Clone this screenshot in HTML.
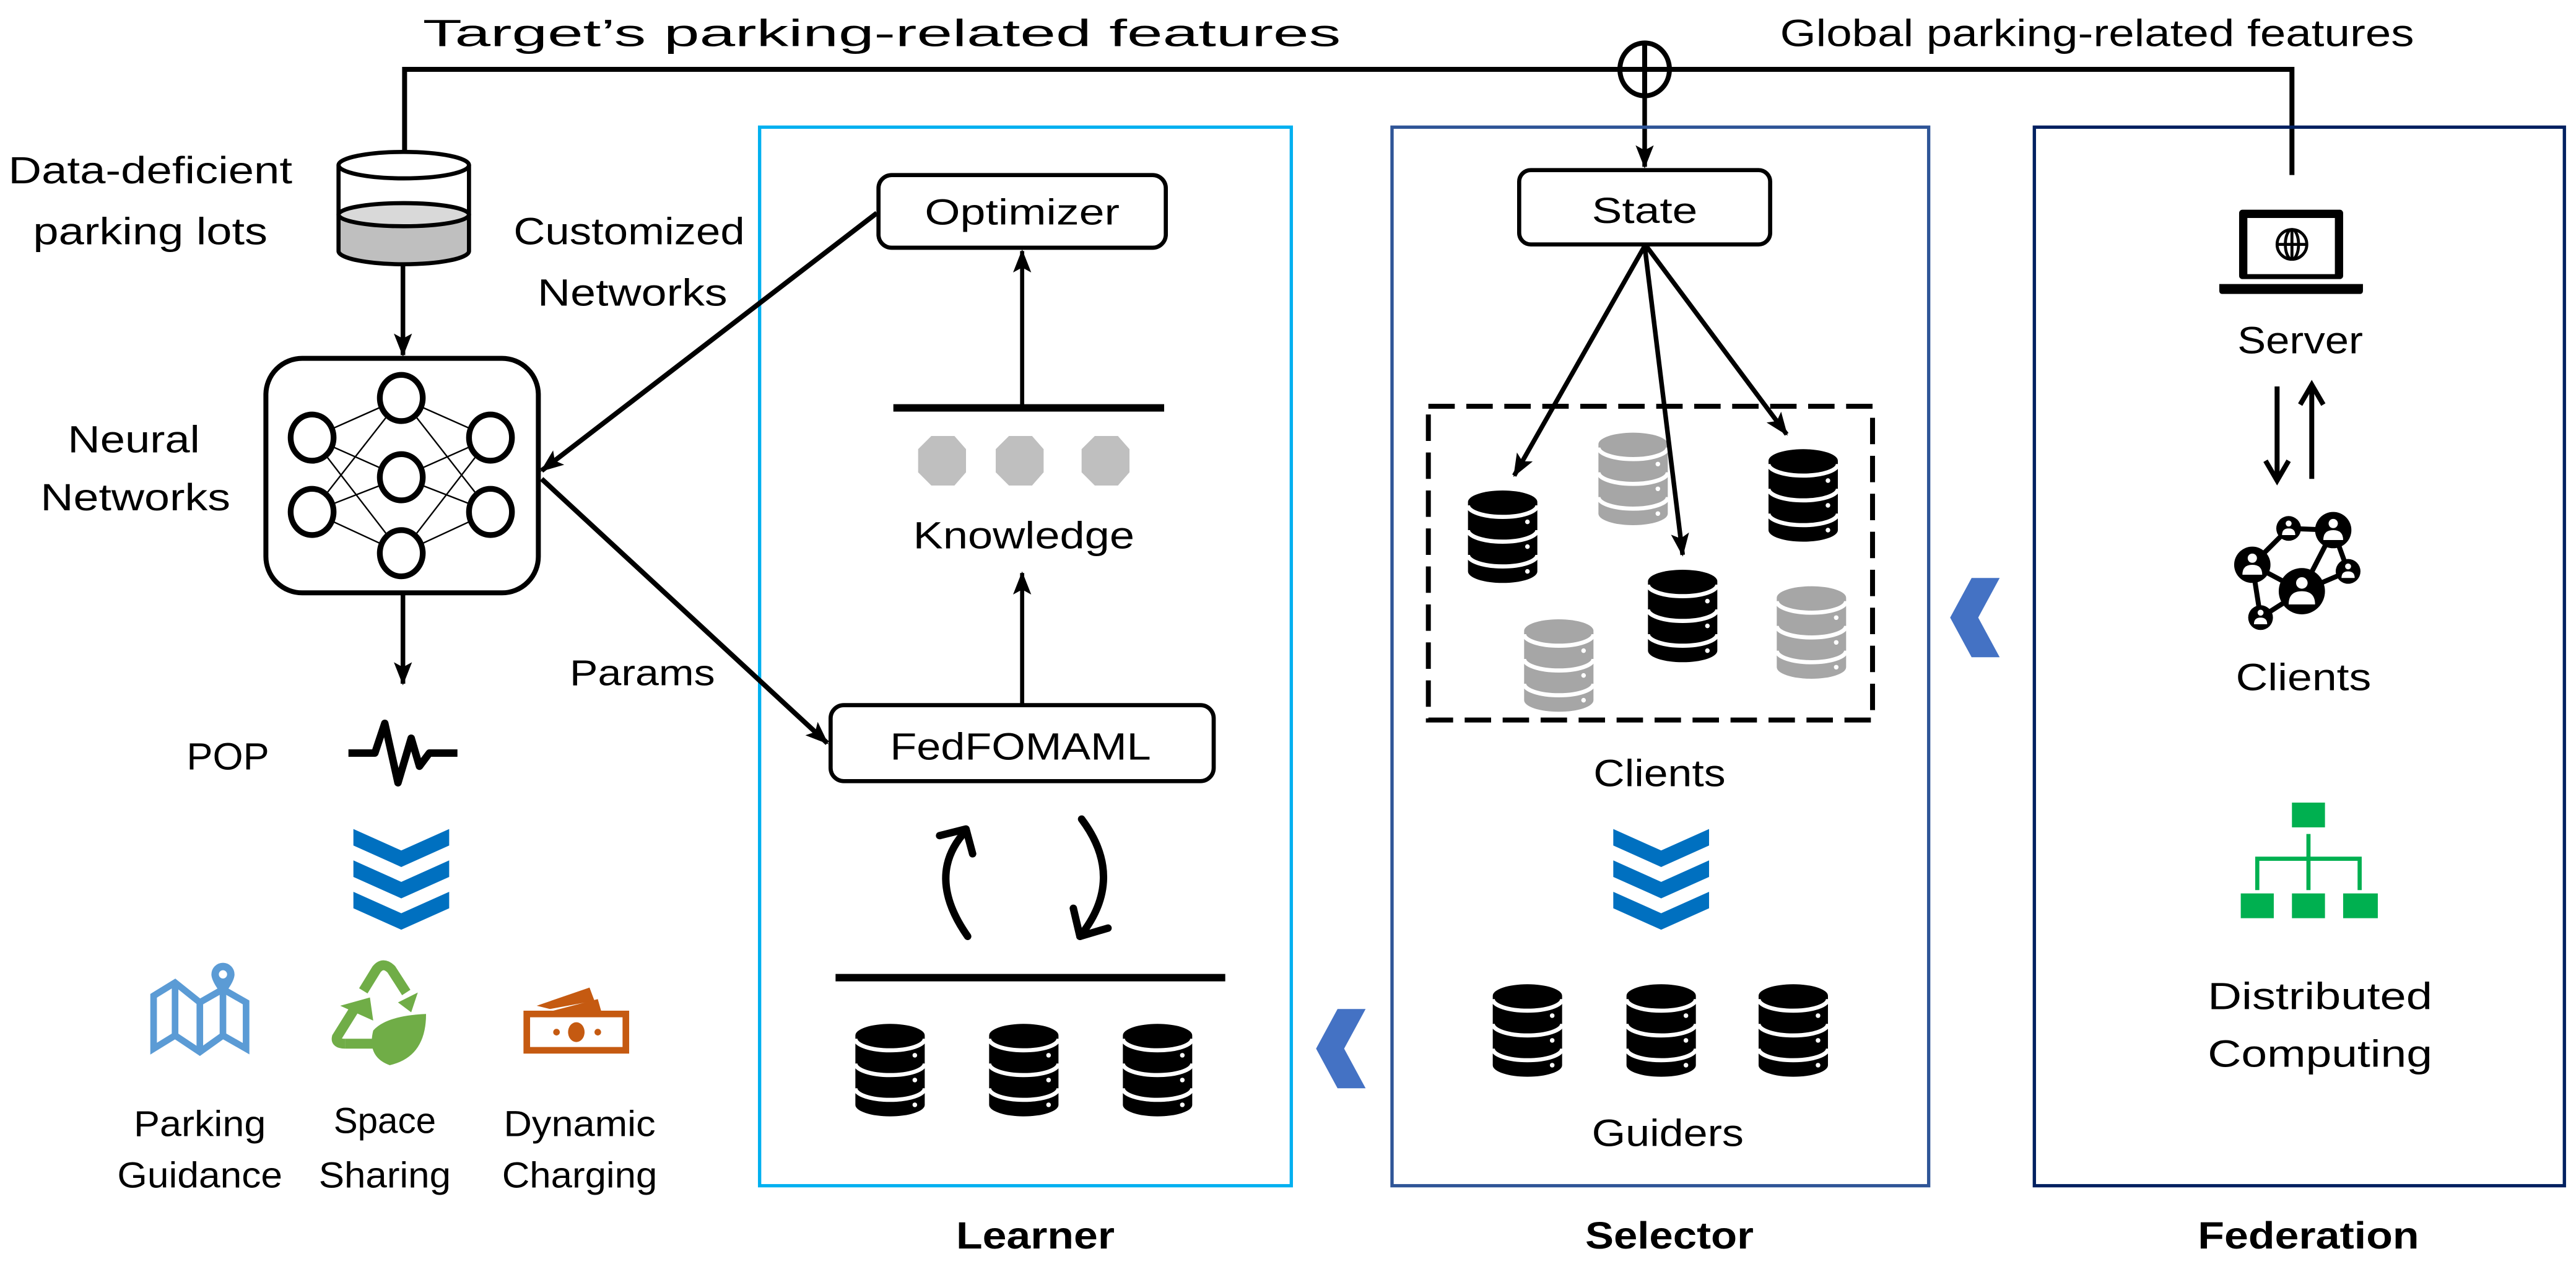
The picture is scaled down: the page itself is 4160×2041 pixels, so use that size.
<!DOCTYPE html>
<html><head><meta charset="utf-8"><style>
html,body{margin:0;padding:0;background:#fff;}
svg{display:block;}
text{font-family:"Liberation Sans",sans-serif;fill:#000;}
</style></head><body>
<svg width="4160" height="2041" viewBox="0 0 1560 765.4" xmlns="http://www.w3.org/2000/svg">
<defs>
<marker id="ah" markerWidth="14" markerHeight="12" refX="13" refY="5.5" orient="auto" markerUnits="userSpaceOnUse">
<path d="M0,0 L14,5.5 L0,11 L3,5.5 Z" fill="#000"/></marker>
<g id="db">
<path d="M0,7 A21,7 0 0 1 42,7 L42,49 A21,7 0 0 1 0,49 Z"/>
<path d="M0,9 A21,7 0 0 0 42,9 M0,24 A21,7 0 0 0 42,24 M0,39 A21,7 0 0 0 42,39" fill="none" stroke="#fff" stroke-width="2.5"/>
<circle cx="36" cy="19" r="1.4" fill="#fff"/><circle cx="36" cy="34" r="1.4" fill="#fff"/><circle cx="36" cy="49" r="1.4" fill="#fff"/>
</g>
<g id="chev" fill="#0070c0">
<path d="M0,0 L29,13 L58,0 L58,10 L29,23 L0,10 Z"/>
<path d="M0,19 L29,32 L58,19 L58,29 L29,42 L0,29 Z"/>
<path d="M0,38 L29,51 L58,38 L58,48 L29,61 L0,48 Z"/>
</g>
</defs>

<!-- top feature lines -->
<text x="534" y="28" font-size="23" text-anchor="middle" textLength="556" lengthAdjust="spacingAndGlyphs">Target’s parking-related features</text>
<text x="1270" y="28" font-size="23" text-anchor="middle" textLength="384" lengthAdjust="spacingAndGlyphs">Global parking-related features</text>
<polyline points="245,93 245,42 1388,42 1388,106" fill="none" stroke="#000" stroke-width="3"/>
<ellipse cx="996" cy="42" rx="15" ry="16" fill="#fff" stroke="#000" stroke-width="3"/>
<line x1="981" y1="42" x2="1011" y2="42" stroke="#000" stroke-width="3"/>
<line x1="996" y1="26" x2="996" y2="58" stroke="#000" stroke-width="3"/>
<line x1="996" y1="58" x2="996" y2="101" stroke="#000" stroke-width="2.8" marker-end="url(#ah)"/>

<!-- boxes -->
<rect x="460" y="77" width="322" height="641" fill="none" stroke="#00b0f0" stroke-width="2"/>
<rect x="843" y="77" width="325" height="641" fill="none" stroke="#2f5597" stroke-width="2"/>
<rect x="1232" y="77" width="321" height="641" fill="none" stroke="#002060" stroke-width="2"/>
<text x="627" y="756" font-size="23" font-weight="bold" text-anchor="middle" textLength="96" lengthAdjust="spacingAndGlyphs">Learner</text>
<text x="1011" y="756" font-size="23" font-weight="bold" text-anchor="middle" textLength="102" lengthAdjust="spacingAndGlyphs">Selector</text>
<text x="1398" y="756" font-size="23" font-weight="bold" text-anchor="middle" textLength="134" lengthAdjust="spacingAndGlyphs">Federation</text>

<!-- left: cylinder -->
<text x="91" y="111" font-size="23" text-anchor="middle" textLength="172" lengthAdjust="spacingAndGlyphs">Data-deficient</text>
<text x="91" y="148" font-size="23" text-anchor="middle" textLength="142" lengthAdjust="spacingAndGlyphs">parking lots</text>
<path d="M205,130 L205,152 A39.5,8 0 0 0 284,152 L284,130 Z" fill="#bfbfbf"/>
<ellipse cx="244.5" cy="130" rx="39.5" ry="7" fill="#d9d9d9" stroke="#000" stroke-width="2.5"/>
<path d="M205,100 L205,152 A39.5,8 0 0 0 284,152 L284,100" fill="none" stroke="#000" stroke-width="2.5"/>
<ellipse cx="244.5" cy="100" rx="39.5" ry="8" fill="#fff" stroke="#000" stroke-width="2.5"/>
<line x1="244" y1="161" x2="244" y2="215" stroke="#000" stroke-width="2.8" marker-end="url(#ah)"/>

<text x="381" y="148" font-size="23" text-anchor="middle" textLength="140" lengthAdjust="spacingAndGlyphs">Customized</text>
<text x="383" y="185" font-size="23" text-anchor="middle" textLength="115" lengthAdjust="spacingAndGlyphs">Networks</text>
<text x="81" y="274" font-size="23" text-anchor="middle" textLength="80" lengthAdjust="spacingAndGlyphs">Neural</text>
<text x="82" y="309" font-size="23" text-anchor="middle" textLength="115" lengthAdjust="spacingAndGlyphs">Networks</text>

<!-- neural net -->
<rect x="161" y="217" width="165" height="142" rx="22" fill="#fff" stroke="#000" stroke-width="3"/>
<g stroke="#000" stroke-width="0.9">
<line x1="189" y1="265" x2="243" y2="241"/><line x1="189" y1="265" x2="243" y2="289"/><line x1="189" y1="265" x2="243" y2="335"/>
<line x1="189" y1="310" x2="243" y2="241"/><line x1="189" y1="310" x2="243" y2="289"/><line x1="189" y1="310" x2="243" y2="335"/>
<line x1="297" y1="265" x2="243" y2="241"/><line x1="297" y1="265" x2="243" y2="289"/><line x1="297" y1="265" x2="243" y2="335"/>
<line x1="297" y1="310" x2="243" y2="241"/><line x1="297" y1="310" x2="243" y2="289"/><line x1="297" y1="310" x2="243" y2="335"/>
</g>
<g fill="#fff" stroke="#000" stroke-width="3.5">
<ellipse cx="189" cy="265" rx="13" ry="14"/><ellipse cx="189" cy="310" rx="13" ry="14"/>
<ellipse cx="243" cy="241" rx="13" ry="14"/><ellipse cx="243" cy="289" rx="13" ry="14"/><ellipse cx="243" cy="335" rx="13" ry="14"/>
<ellipse cx="297" cy="265" rx="13" ry="14"/><ellipse cx="297" cy="310" rx="13" ry="14"/>
</g>
<line x1="244" y1="360" x2="244" y2="414" stroke="#000" stroke-width="2.8" marker-end="url(#ah)"/>

<!-- learner internals -->
<rect x="532" y="106" width="174" height="44" rx="8" fill="#fff" stroke="#000" stroke-width="2.5"/>
<text x="619" y="136" font-size="22" text-anchor="middle" textLength="118" lengthAdjust="spacingAndGlyphs">Optimizer</text>
<line x1="531" y1="129" x2="328" y2="285" stroke="#000" stroke-width="3" marker-end="url(#ah)"/>
<line x1="328" y1="290" x2="501" y2="450" stroke="#000" stroke-width="3" marker-end="url(#ah)"/>
<text x="389" y="415" font-size="22" text-anchor="middle" textLength="88" lengthAdjust="spacingAndGlyphs">Params</text>
<line x1="619" y1="247" x2="619" y2="152" stroke="#000" stroke-width="2.5" marker-end="url(#ah)"/>
<line x1="541" y1="247" x2="705" y2="247" stroke="#000" stroke-width="4.5"/>
<g fill="#bfbfbf">
<polygon points="564,264 578,264 585,272 585,286 578,294 564,294 556,286 556,272"/>
<polygon points="611,264 625,264 632,272 632,286 625,294 611,294 603,286 603,272"/>
<polygon points="663,264 677,264 684,272 684,286 677,294 663,294 655,286 655,272"/>
</g>
<text x="620" y="332" font-size="23" text-anchor="middle" textLength="134" lengthAdjust="spacingAndGlyphs">Knowledge</text>
<line x1="619" y1="427" x2="619" y2="347" stroke="#000" stroke-width="2.5" marker-end="url(#ah)"/>
<rect x="503" y="427" width="232" height="46" rx="8" fill="#fff" stroke="#000" stroke-width="2.5"/>
<text x="618" y="460" font-size="23" text-anchor="middle" textLength="158" lengthAdjust="spacingAndGlyphs">FedFOMAML</text>
<g fill="none" stroke="#000" stroke-width="4.5" stroke-linecap="round" stroke-linejoin="round">
<path d="M586,567 Q560,530 585,503"/><path d="M569,506 L585,502 L589,517"/>
<path d="M655,496 Q682,532 654,567"/><path d="M650,550 L654,567 L671,562"/>
</g>
<line x1="506" y1="592" x2="742" y2="592" stroke="#000" stroke-width="4.5"/>
<use href="#db" x="518" y="620"/><use href="#db" x="599" y="620"/><use href="#db" x="680" y="620"/>

<!-- POP & applications -->
<text x="138" y="466" font-size="23" text-anchor="middle" textLength="50" lengthAdjust="spacingAndGlyphs">POP</text>
<path d="M211,456 L227,456 L233,438 L241,474 L249,447 L254,464 L260,456 L277,456" fill="none" stroke="#000" stroke-width="4.5" stroke-linejoin="round"/>
<use href="#chev" x="214" y="502"/>
<!-- map -->
<g fill="none" stroke="#5b9bd5" stroke-width="4">
<path d="M93,603 L106,595 L121,607 L135,599 L149,607 L149,635 L135,627 L121,637 L106,627 L93,635 Z"/>
<line x1="106" y1="596" x2="106" y2="627"/><line x1="121" y1="607" x2="121" y2="637"/><line x1="135" y1="600" x2="135" y2="627"/>
</g>
<path d="M135,583 a7,7 0 0 1 7,7 c0,5 -7,13 -7,13 c0,0 -7,-8 -7,-13 a7,7 0 0 1 7,-7 z" fill="#5b9bd5"/>
<circle cx="135" cy="590" r="2.5" fill="#fff"/>
<!-- recycle -->
<g fill="none" stroke="#70ad47" stroke-width="6">
<path d="M209,632 L226,632"/><path d="M214,612 L204,628 Q203,632 209,632"/>
<path d="M220,600 L228,587 Q232,582 237,587 L246,601"/>
</g>
<g fill="#70ad47">
<polygon points="206,609 224,604 226,618"/><polygon points="241,607 253,601 249,613"/>
<path d="M236,645 Q222,640 226,624 Q234,615 258,614 Q258,640 236,645 Z"/>
</g>
<!-- money -->
<rect x="319" y="614" width="60" height="22" fill="none" stroke="#c55a11" stroke-width="4"/>
<ellipse cx="349" cy="625" rx="5" ry="6" fill="#c55a11"/><circle cx="337" cy="625" r="2" fill="#c55a11"/><circle cx="362" cy="625" r="2" fill="#c55a11"/>
<polygon points="325,609 357,598 360,606 333,611" fill="#c55a11"/>
<polygon points="335,612 362,605 364,612" fill="#c55a11"/>
<text x="121" y="688" font-size="22" text-anchor="middle" textLength="80" lengthAdjust="spacingAndGlyphs">Parking</text>
<text x="121" y="719" font-size="22" text-anchor="middle" textLength="100" lengthAdjust="spacingAndGlyphs">Guidance</text>
<text x="233" y="686" font-size="22" text-anchor="middle" textLength="62" lengthAdjust="spacingAndGlyphs">Space</text>
<text x="233" y="719" font-size="22" text-anchor="middle" textLength="80" lengthAdjust="spacingAndGlyphs">Sharing</text>
<text x="351" y="688" font-size="22" text-anchor="middle" textLength="92" lengthAdjust="spacingAndGlyphs">Dynamic</text>
<text x="351" y="719" font-size="22" text-anchor="middle" textLength="94" lengthAdjust="spacingAndGlyphs">Charging</text>

<!-- blue chevrons between boxes -->
<polygon points="810,611 827,611 814,635 827,659 810,659 797,635" fill="#4472c4"/>
<polygon points="1194,350 1211,350 1198,374 1211,398 1194,398 1181,374" fill="#4472c4"/>

<!-- selector -->
<rect x="920" y="103" width="152" height="45" rx="7" fill="#fff" stroke="#000" stroke-width="2.5"/>
<text x="996" y="135" font-size="22" text-anchor="middle" textLength="64" lengthAdjust="spacingAndGlyphs">State</text>
<rect x="865" y="246" width="269" height="190" fill="none" stroke="#000" stroke-width="3" stroke-dasharray="16,7"/>
<g fill="#a6a6a6"><use href="#db" x="968" y="262"/><use href="#db" x="923" y="375"/><use href="#db" x="1076" y="355"/></g>
<use href="#db" x="889" y="297"/><use href="#db" x="1071" y="272"/><use href="#db" x="998" y="345"/>
<line x1="996" y1="149" x2="917" y2="288" stroke="#000" stroke-width="2.8" marker-end="url(#ah)"/>
<line x1="996" y1="149" x2="1019" y2="336" stroke="#000" stroke-width="2.8" marker-end="url(#ah)"/>
<line x1="997" y1="149" x2="1082" y2="263" stroke="#000" stroke-width="2.8" marker-end="url(#ah)"/>
<text x="1005" y="476" font-size="23" text-anchor="middle" textLength="80" lengthAdjust="spacingAndGlyphs">Clients</text>
<use href="#chev" x="977" y="502"/>
<use href="#db" x="904" y="596"/><use href="#db" x="985" y="596"/><use href="#db" x="1065" y="596"/>
<text x="1010" y="694" font-size="23" text-anchor="middle" textLength="92" lengthAdjust="spacingAndGlyphs">Guiders</text>

<!-- federation -->
<rect x="1356" y="127" width="63" height="42" rx="2" fill="#000"/>
<rect x="1361" y="132" width="53" height="34" fill="#fff"/>
<g fill="none" stroke="#000" stroke-width="1.8">
<circle cx="1388" cy="148" r="9"/><ellipse cx="1388" cy="148" rx="4" ry="9"/><line x1="1379" y1="148" x2="1397" y2="148"/><line x1="1388" y1="139" x2="1388" y2="157"/>
</g>
<path d="M1344,172 L1431,172 L1431,176 Q1431,178 1429,178 L1346,178 Q1344,178 1344,176 Z" fill="#000"/>
<text x="1393" y="214" font-size="23" text-anchor="middle" textLength="76" lengthAdjust="spacingAndGlyphs">Server</text>
<line x1="1379" y1="234" x2="1379" y2="290" stroke="#000" stroke-width="3"/>
<path d="M1372,279 L1379,291 L1386,279" fill="none" stroke="#000" stroke-width="3"/>
<line x1="1400" y1="290" x2="1400" y2="234" stroke="#000" stroke-width="3"/>
<path d="M1393,245 L1400,233 L1407,245" fill="none" stroke="#000" stroke-width="3"/>
<!-- network icon -->
<g stroke="#000" stroke-width="3">
<line x1="1364" y1="342" x2="1386" y2="320"/><line x1="1386" y1="320" x2="1413" y2="321"/><line x1="1413" y1="321" x2="1394" y2="358"/>
<line x1="1413" y1="321" x2="1422" y2="346"/><line x1="1422" y1="346" x2="1394" y2="358"/><line x1="1364" y1="342" x2="1394" y2="358"/>
<line x1="1364" y1="342" x2="1369" y2="374"/><line x1="1369" y1="374" x2="1394" y2="358"/>
</g>
<g fill="#000"><circle cx="1364" cy="342" r="11"/><circle cx="1386" cy="320" r="7.5"/><circle cx="1413" cy="321" r="11"/><circle cx="1422" cy="346" r="7.5"/><circle cx="1394" cy="358" r="14"/><circle cx="1369" cy="374" r="7.5"/></g>
<g fill="#fff">
<circle cx="1364" cy="338" r="2.8"/><path d="M1358,348 Q1358,342 1364,342 Q1370,342 1370,348 Z"/>
<circle cx="1413" cy="317" r="2.8"/><path d="M1407,327 Q1407,321 1413,321 Q1419,321 1419,327 Z"/>
<circle cx="1394" cy="353" r="3.5"/><path d="M1386,366 Q1386,358 1394,358 Q1402,358 1402,366 Z"/>
<circle cx="1386" cy="317" r="1.8"/><path d="M1382,324 Q1382,320 1386,320 Q1390,320 1390,324 Z"/>
<circle cx="1422" cy="343" r="1.8"/><path d="M1418,350 Q1418,346 1422,346 Q1426,346 1426,350 Z"/>
<circle cx="1369" cy="371" r="1.8"/><path d="M1365,378 Q1365,374 1369,374 Q1373,374 1373,378 Z"/>
</g>
<text x="1395" y="418" font-size="23" text-anchor="middle" textLength="82" lengthAdjust="spacingAndGlyphs">Clients</text>
<g fill="#00b050">
<rect x="1388" y="486" width="20" height="15"/>
<rect x="1357" y="541" width="20" height="15"/><rect x="1388" y="541" width="20" height="15"/><rect x="1419" y="541" width="21" height="15"/>
</g>
<g fill="none" stroke="#00b050" stroke-width="2.5">
<line x1="1398" y1="505" x2="1398" y2="539"/><polyline points="1367,539 1367,520 1429,520 1429,539"/>
</g>
<text x="1405" y="611" font-size="23" text-anchor="middle" textLength="136" lengthAdjust="spacingAndGlyphs">Distributed</text>
<text x="1405" y="646" font-size="23" text-anchor="middle" textLength="136" lengthAdjust="spacingAndGlyphs">Computing</text>
</svg>
</body></html>
